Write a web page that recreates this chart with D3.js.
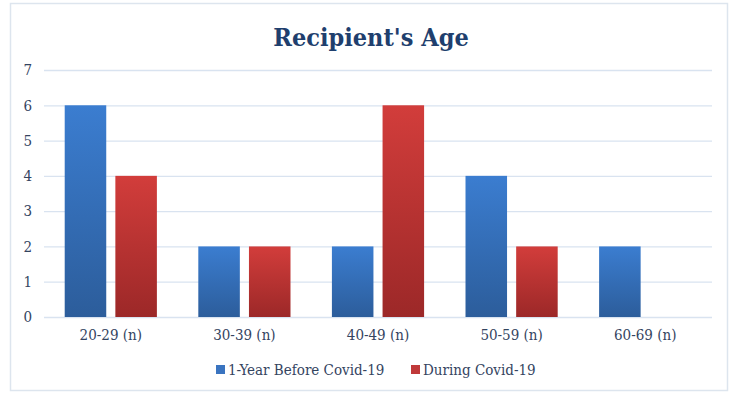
<!DOCTYPE html>
<html>
<head>
<meta charset="utf-8">
<script src="https://cdn.jsdelivr.net/npm/d3@7/dist/d3.min.js"></script>
<style>
  body { margin: 0; background: #fff; }
  text { font-family: "DejaVu Serif Condensed", "Liberation Serif", serif; }
</style>
</head>
<body>
<script>
// chart values
var categories = ['20-29 (n)', '30-39 (n)', '40-49 (n)', '50-59 (n)', '60-69 (n)'];
var seriesNames = ['1-Year Before Covid-19', 'During Covid-19'];
var beforeCovid = [6, 2, 2, 4, 2];
var duringCovid = [4, 2, 6, 2, 0];
var yTicks = [0, 1, 2, 3, 4, 5, 6, 7];

var width = 736, height = 395;
var margin = { left: 44, right: 24, top: 70, bottom: 78 };

var svg = d3.select('body').append('svg').attr('width', width).attr('height', height);

// gradients for the bars
var defs = svg.append('defs');
function grad(id, top, bottom) {
    var g = defs.append('linearGradient').attr('id', id).attr('x1', 0).attr('y1', 0).attr('x2', 0).attr('y2', 1);
    g.append('stop').attr('offset', '0%').attr('stop-color', top);
    g.append('stop').attr('offset', '100%').attr('stop-color', bottom);
}
grad('gBlue', '#3b7dd0', '#2c5d9b');
grad('gRed', '#d23d3b', '#9c2828');
var fills = ['url(#gBlue)', 'url(#gRed)'];
var legendColors = ['#3a74c0', '#c0393a'];

// outer frame
svg.append('rect').attr('x', 10.5).attr('y', 3.5).attr('width', 717).attr('height', 387)
    .attr('fill', 'none').attr('stroke', '#dde5ee').attr('stroke-width', 1.5);

svg.append('text').attr('x', 371).attr('y', 46).attr('text-anchor', 'middle')
    .attr('font-size', 25).attr('font-weight', 'bold').attr('fill', '#1f3f6e')
    .text("Recipient's Age");

var x0 = d3.scaleBand().domain(categories).range([margin.left, width - margin.right])
    .paddingInner(0.31).paddingOuter(0.155);
var x1 = d3.scaleBand().domain(seriesNames).range([0, x0.bandwidth()]).paddingInner(0.18);
var y = d3.scaleLinear().domain([0, 7]).range([height - margin.bottom, margin.top]);

// gridlines
svg.append('g').selectAll('line').data(yTicks).enter().append('line')
    .attr('x1', margin.left).attr('x2', width - margin.right)
    .attr('y1', function (d) { return y(d) + 0.5; }).attr('y2', function (d) { return y(d) + 0.5; })
    .attr('stroke', '#d9e3f0').attr('stroke-width', 1.3);

// y axis labels
var yAxis = svg.append('g').attr('transform', 'translate(' + margin.left + ',0)')
    .call(d3.axisLeft(y).tickValues(yTicks).tickSize(0).tickPadding(12).tickFormat(d3.format('d')));
yAxis.select('.domain').remove();
yAxis.selectAll('text').attr('font-size', 15).attr('fill', '#34445f')
    .style('font-family', '"DejaVu Serif Condensed", serif');

// bars
var groups = svg.append('g').selectAll('g').data(categories).enter().append('g')
    .attr('transform', function (d) { return 'translate(' + x0(d) + ',0)'; });
groups.selectAll('rect').data(function (d, i) {
    return [
        { s: seriesNames[0], v: beforeCovid[i], k: 0 },
        { s: seriesNames[1], v: duringCovid[i], k: 1 }
    ];
}).enter().append('rect')
    .attr('x', function (d) { return x1(d.s); })
    .attr('y', function (d) { return y(d.v); })
    .attr('width', x1.bandwidth())
    .attr('height', function (d) { return y(0) - y(d.v); })
    .attr('fill', function (d) { return fills[d.k]; });

// x axis labels
var xAxis = svg.append('g').attr('transform', 'translate(0,' + (height - margin.bottom) + ')')
    .call(d3.axisBottom(x0).tickSize(0).tickPadding(12));
xAxis.select('.domain').remove();
xAxis.selectAll('text').attr('font-size', 15).attr('fill', '#34445f')
    .style('font-family', '"DejaVu Serif Condensed", serif');

// legend
var legendX = [216, 411];
var legend = svg.append('g').selectAll('g').data(seriesNames).enter().append('g')
    .attr('transform', function (d, i) { return 'translate(' + legendX[i] + ',370)'; });
legend.append('rect').attr('x', 0).attr('y', -5).attr('width', 9).attr('height', 9)
    .attr('fill', function (d, i) { return legendColors[i]; });
legend.append('text').attr('x', 12).attr('y', 5).attr('font-size', 15).attr('fill', '#34445f')
    .text(function (d) { return d; });
</script>
</body>
</html>
